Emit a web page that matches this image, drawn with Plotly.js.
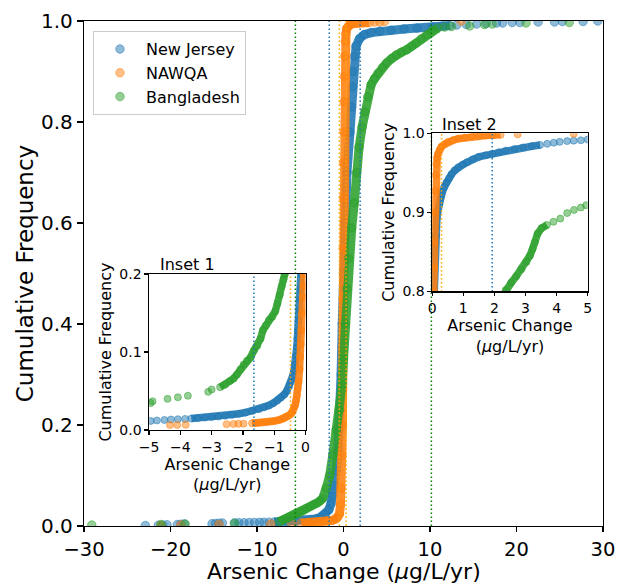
<!DOCTYPE html>
<html>
<head>
<meta charset="utf-8">
<script src="https://cdn.plot.ly/plotly-3.0.1.min.js"></script>
<style>html,body{margin:0;padding:0;background:#fff;}#chart{width:619px;height:585px;}</style>
</head>
<body>
<div id="chart"></div>
<script>
// ---------- Main panel data ----------
const njMainX = [-22.9,-21.4,-20.9,-20.4,-19.2,-18.8,-18.4,-15.2,-14.8,-14.4,-14.0,-12.6,-12.1,-11.5,-10.9,-10.3,-9.7,-9.2,-8.6,-8.0,-7.5,-6.5,-5.5,-4.5,-3.8,-3.2,-2.6,-2.1,-1.7,-1.45,-1.25,-1.05,-0.85,-0.65,-0.5,-0.4,-0.28,-0.15,0.0,0.15,0.4,0.75,0.95,1.05,1.1,1.25,1.45,1.85,2.4,3.2,4.2,5.5,7.0,8.5,10.3,11.5,12.3,13.1,14.2,15.4,16.5,17.7,18.4,19.5,20.4,22.5,24.4,25.3,27.7,29.4];
const njMainY = [0.001,0.0015,0.002,0.0025,0.003,0.0035,0.004,0.0045,0.005,0.0055,0.006,0.0062,0.0064,0.0066,0.0068,0.007,0.0072,0.0074,0.0076,0.0078,0.008,0.0085,0.009,0.0095,0.011,0.014,0.018,0.024,0.032,0.044,0.06,0.08,0.11,0.15,0.19,0.23,0.3,0.4,0.5,0.6,0.7,0.78,0.83,0.87,0.9,0.93,0.95,0.965,0.973,0.977,0.98,0.982,0.984,0.986,0.988,0.99,0.991,0.992,0.993,0.994,0.995,0.996,0.996,0.997,0.997,0.998,0.998,0.999,0.999,1.0];

const nawqaMainX = [-21.1,-18.8,-14.4,-8.4,-6.0,-4.9,-4.1,-3.6,-2.9,-2.3,-1.8,-1.3,-0.9,-0.66,-0.46,-0.35,-0.27,-0.18,-0.12,-0.1,-0.08,-0.06,-0.04,-0.02,0.0,0.03,0.06,0.1,0.14,0.2,0.28,0.38,0.55,0.8,1.2,1.7,2.3,3.0,3.6,4.2,4.75,13.6];
const nawqaMainY = [0.001,0.002,0.003,0.004,0.005,0.006,0.0065,0.007,0.008,0.009,0.01,0.011,0.014,0.017,0.024,0.042,0.075,0.14,0.2,0.27,0.35,0.45,0.55,0.65,0.72,0.78,0.84,0.89,0.93,0.96,0.975,0.985,0.99,0.993,0.995,0.996,0.997,0.997,0.998,0.998,0.999,1.0];

const bdMainX = [-29.1,-21.1,-18.3,-12.6,-7.4,-7.0,-6.6,-6.2,-5.8,-5.4,-5.0,-4.6,-4.2,-3.8,-3.4,-3.0,-2.7,-2.4,-2.0,-1.6,-1.24,-0.85,-0.46,-0.15,0.0,0.2,0.4,0.6,0.95,1.25,1.5,1.8,2.15,2.45,2.8,3.2,3.6,4.0,4.5,5.0,5.6,6.1,6.7,7.3,7.9,8.4,9.0,9.6,10.2,10.9,11.7,12.5,14.6,16.3,17.2,21.1,26.1];
const bdMainY = [0.002,0.003,0.004,0.005,0.009,0.012,0.015,0.018,0.021,0.024,0.027,0.031,0.035,0.039,0.043,0.046,0.05,0.055,0.075,0.10,0.14,0.19,0.23,0.28,0.33,0.40,0.47,0.53,0.59,0.64,0.70,0.75,0.79,0.82,0.85,0.874,0.886,0.897,0.908,0.917,0.926,0.933,0.938,0.943,0.95,0.956,0.965,0.973,0.98,0.986,0.988,0.989,0.99,0.993,0.994,0.996,0.997];

// ---------- Inset 1 data ----------
const njIn1X = [-5.3,-4.95,-4.75,-4.51,-4.3,-4.08,-3.85,-3.65,-3.45,-3.22,-3.0,-2.79,-2.57,-2.35,-2.13,-1.92,-1.7,-1.49,-1.33,-1.17,-1.03,-0.9,-0.79,-0.68,-0.6,-0.52,-0.46,-0.41,-0.37,-0.33,-0.3,-0.28,-0.26,-0.24,-0.21,-0.19,-0.17,-0.16,-0.14,-0.12];
const njIn1Y = [0.011,0.0117,0.0123,0.013,0.0135,0.0139,0.0143,0.0147,0.0153,0.016,0.0166,0.0173,0.0183,0.0195,0.021,0.0225,0.0245,0.0268,0.029,0.0316,0.0345,0.0377,0.0413,0.0455,0.050,0.056,0.062,0.069,0.076,0.084,0.095,0.106,0.117,0.128,0.141,0.154,0.167,0.18,0.2,0.22];
const nawqaIn1X = [-4.33,-4.1,-3.83,-2.52,-2.3,-2.14,-1.98,-1.71,-1.6,-1.49,-1.38,-1.27,-1.16,-1.06,-0.95,-0.84,-0.76,-0.68,-0.6,-0.52,-0.46,-0.41,-0.37,-0.33,-0.3,-0.27,-0.245,-0.22,-0.19,-0.17,-0.15,-0.13,-0.11,-0.09,-0.07,-0.05,-0.03];
const nawqaIn1Y = [0.0065,0.0065,0.0068,0.0075,0.0078,0.008,0.0082,0.0087,0.0089,0.0091,0.0095,0.010,0.0105,0.011,0.012,0.013,0.014,0.015,0.017,0.019,0.021,0.024,0.028,0.032,0.038,0.045,0.053,0.063,0.078,0.094,0.11,0.128,0.15,0.171,0.185,0.2,0.22];
const bdIn1X = [-5.3,-4.95,-4.89,-4.41,-4.08,-3.76,-3.11,-3.0,-2.73,-2.57,-2.41,-2.3,-2.19,-2.08,-1.98,-1.87,-1.76,-1.65,-1.54,-1.44,-1.36,-1.27,-1.17,-1.06,-0.97,-0.9,-0.82,-0.76,-0.7,-0.66,-0.6];
const bdIn1Y = [0.033,0.0346,0.0368,0.040,0.042,0.044,0.049,0.052,0.055,0.058,0.063,0.066,0.071,0.078,0.084,0.089,0.093,0.102,0.108,0.117,0.128,0.134,0.141,0.145,0.152,0.162,0.173,0.184,0.193,0.2,0.21];

// ---------- Inset 2 data ----------
const njIn2X = [0.05,0.06,0.077,0.09,0.11,0.13,0.15,0.18,0.22,0.27,0.32,0.39,0.46,0.54,0.62,0.73,0.84,0.98,1.12,1.3,1.5,1.72,1.94,2.15,2.37,2.65,2.92,3.2,3.47,3.7,3.91,4.1,4.34,4.55,4.78,5.0,5.2];
const njIn2Y = [0.78,0.8,0.849,0.86,0.871,0.882,0.892,0.901,0.91,0.918,0.925,0.932,0.938,0.943,0.948,0.953,0.957,0.96,0.963,0.967,0.97,0.972,0.974,0.976,0.978,0.98,0.982,0.9835,0.985,0.9865,0.988,0.989,0.990,0.9905,0.991,0.992,0.992];
const nawqaIn2X = [0.03,0.045,0.055,0.066,0.077,0.088,0.1,0.115,0.13,0.16,0.19,0.24,0.3,0.4,0.51,0.67,0.84,1.05,1.28,1.5,1.72,1.95,2.2,2.75,4.55];
const nawqaIn2Y = [0.78,0.79,0.8,0.83,0.862,0.9,0.927,0.947,0.961,0.969,0.974,0.979,0.983,0.986,0.989,0.991,0.993,0.9945,0.9957,0.9963,0.997,0.9975,0.998,0.9985,0.9991];
const bdIn2X = [2.2,2.37,2.54,2.7,2.87,3.03,3.14,3.23,3.3,3.39,3.52,3.69,3.9,4.12,4.34,4.56,4.78,4.95,5.2];
const bdIn2Y = [0.79,0.802,0.811,0.819,0.828,0.837,0.845,0.854,0.862,0.873,0.88,0.884,0.888,0.892,0.899,0.903,0.906,0.909,0.912];

// ---------- Threshold (dotted) lines ----------
const njThresh = [-1.65, 1.93];
const nawqaThresh = [-0.48, 0.3];
const bdThresh = [-5.56, 10.16];

// ---------- Axis ranges / ticks ----------
const mainXRange = [-30, 30], mainYRange = [0, 1];
const in1XRange = [-5, 0], in1YRange = [0, 0.2];
const in2XRange = [0, 5], in2YRange = [0.8, 1.0];
const seriesNames = ['New Jersey', 'NAWQA', 'Bangladesh'];

const RGB = {nj:'31,119,180', nawqa:'255,127,14', bd:'44,160,44'};
const LINECOL = {nj:'#1f77b4', nawqa:'#ffa500', bd:'#008000'};

const traces = [];
function addSeries(xa, ya, X, Y, key, size, lineFrom, lineTo, name, showleg) {
  traces.push({type:'scatter', mode:'lines', xaxis:xa, yaxis:ya,
    x:X.slice(lineFrom, lineTo+1), y:Y.slice(lineFrom, lineTo+1),
    line:{color:'rgba('+RGB[key]+',0.88)', width:size+0.5},
    showlegend:false, hoverinfo:'skip'});
  traces.push({type:'scatter', mode:'markers', xaxis:xa, yaxis:ya, x:X, y:Y, name:name,
    showlegend:showleg,
    marker:{size:size, color:'rgba('+RGB[key]+',0.5)', line:{color:'rgba('+RGB[key]+',0.5)', width:1}}});
}
function addThresh(xa, ya, vals, key, yr) {
  vals.forEach(v => traces.push({type:'scatter', mode:'lines', xaxis:xa, yaxis:ya,
    x:[v, v], y:[yr[0], yr[1]], line:{color:LINECOL[key], width:1.5, dash:'1.5px,2.5px'},
    showlegend:false, hoverinfo:'skip'}));
}

// main
addSeries('x','y', njMainX, njMainY, 'nj', 8.5, 19, 56, seriesNames[0], true);
addSeries('x','y', nawqaMainX, nawqaMainY, 'nawqa', 8.5, 5, 37, seriesNames[1], true);
addSeries('x','y', bdMainX, bdMainY, 'bd', 8.5, 4, 49, seriesNames[2], true);
addThresh('x','y', njThresh, 'nj', mainYRange);
addThresh('x','y', nawqaThresh, 'nawqa', mainYRange);
addThresh('x','y', bdThresh, 'bd', mainYRange);
// inset 1
addSeries('x2','y2', njIn1X, njIn1Y, 'nj', 7, 7, njIn1X.length-1, '', false);
addSeries('x2','y2', nawqaIn1X, nawqaIn1Y, 'nawqa', 7, 7, nawqaIn1X.length-1, '', false);
addSeries('x2','y2', bdIn1X, bdIn1Y, 'bd', 7, 8, bdIn1X.length-1, '', false);
addThresh('x2','y2', njThresh, 'nj', in1YRange);
addThresh('x2','y2', nawqaThresh, 'nawqa', in1YRange);
// inset 2
addSeries('x3','y3', njIn2X, njIn2Y, 'nj', 7, 0, 28, '', false);
addSeries('x3','y3', nawqaIn2X, nawqaIn2Y, 'nawqa', 7, 0, 22, '', false);
addSeries('x3','y3', bdIn2X, bdIn2Y, 'bd', 7, 0, 11, '', false);
addThresh('x3','y3', njThresh, 'nj', in2YRange);
addThresh('x3','y3', nawqaThresh, 'nawqa', in2YRange);

const FONT = 'DejaVu Sans';
function axisBase(tsize, tlen) {
  return {showline:true, mirror:true, linecolor:'black', linewidth:1.2, ticks:'outside',
    ticklen:tlen, tickwidth:1.2, tickcolor:'black', showgrid:false, zeroline:false,
    tickfont:{family:FONT, size:tsize, color:'black'}, automargin:false, fixedrange:true};
}
const layout = {
  width:619, height:585, margin:{l:84, r:16, t:21, b:59},
  paper_bgcolor:'white', plot_bgcolor:'rgba(0,0,0,0)',
  font:{family:FONT, color:'black'},
  showlegend:true,
  legend:{x:0.0173, y:0.98, xanchor:'left', yanchor:'top', bgcolor:'rgba(255,255,255,0.8)',
    bordercolor:'#cccccc', borderwidth:1, font:{family:FONT, size:16, color:'black'},
    itemwidth:42, tracegroupgap:0},
  xaxis: Object.assign(axisBase(19.5, 5), {domain:[0,1], anchor:'y', range:mainXRange, dtick:10, tick0:0}),
  yaxis: Object.assign(axisBase(20, 6), {domain:[0,1], anchor:'x', range:mainYRange, dtick:0.2, tick0:0, tickformat:'.1f',
    title:{text:'Cumulative Frequency', font:{family:FONT, size:23}, standoff:1}}),
  xaxis2: Object.assign(axisBase(14, 3.5), {domain:[0.1254,0.4268], anchor:'y2', range:in1XRange, dtick:1, tick0:0,
    title:{text:'Arsenic Change<br>(<i>μ</i>g/L/yr)', font:{family:FONT, size:16}, standoff:4}}),
  yaxis2: Object.assign(axisBase(14, 3.5), {domain:[0.19,0.499], anchor:'x2', range:in1YRange, dtick:0.1, tick0:0, tickformat:'.1f',
    title:{text:'Cumulative Frequency', font:{family:FONT, size:16}, standoff:3}}),
  xaxis3: Object.assign(axisBase(14, 3.5), {domain:[0.6709,0.9705], anchor:'y3', range:in2XRange, dtick:1, tick0:0,
    title:{text:'Arsenic Change<br>(<i>μ</i>g/L/yr)', font:{family:FONT, size:16}, standoff:2}}),
  yaxis3: Object.assign(axisBase(14, 3.5), {domain:[0.4646,0.7779], anchor:'x3', range:in2YRange, dtick:0.1, tick0:0.8, tickformat:'.1f',
    title:{text:'Cumulative Frequency', font:{family:FONT, size:16}, standoff:3}}),
  annotations:[
    {text:'Arsenic Change (<i>μ</i>g/L/yr)', xref:'paper', yref:'paper', x:0.5, y:-0.1188, xanchor:'center', yanchor:'bottom', showarrow:false, font:{family:FONT, size:22, color:'black'}},
    {text:'Inset 1', xref:'paper', yref:'paper', x:0.1418, y:0.517, xanchor:'left', yanchor:'middle', showarrow:false, font:{family:FONT, size:16, color:'black'}},
    {text:'Inset 2', xref:'paper', yref:'paper', x:0.6854, y:0.795, xanchor:'left', yanchor:'middle', showarrow:false, font:{family:FONT, size:16, color:'black'}}
  ]
};
Plotly.newPlot('chart', traces, layout, {staticPlot:true, displayModeBar:false});
</script>
</body>
</html>
